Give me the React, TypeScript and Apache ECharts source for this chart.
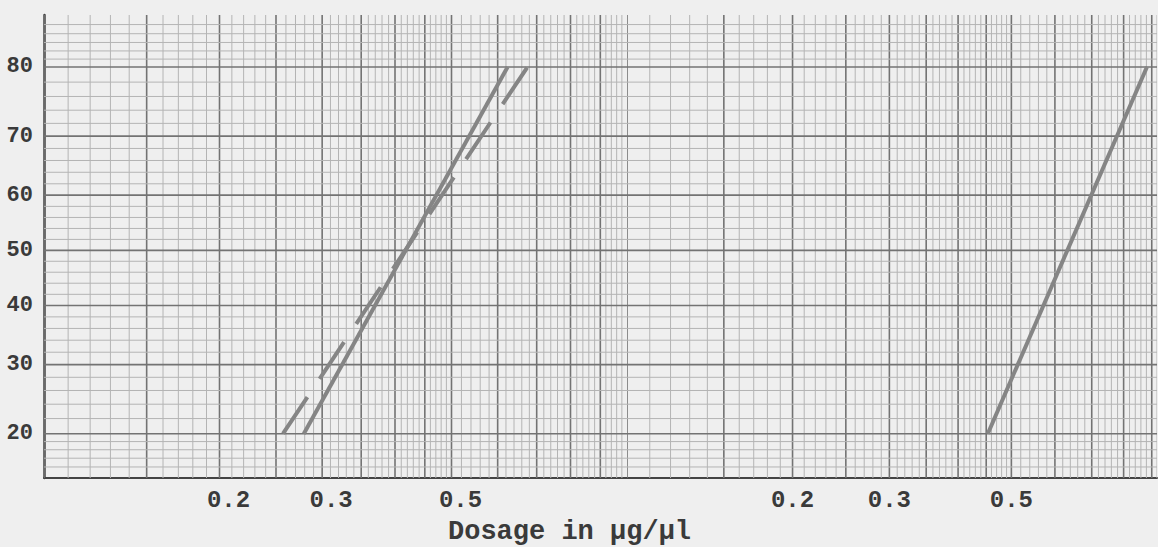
import React, { useEffect, useRef } from "react";
import * as echarts from "echarts";

// ---- tick labels / text ----
const yTickPercents = [20, 30, 40, 50, 60, 70, 80];
const xTickLabels = [0.2, 0.3, 0.5];
const axisTitle = "Dosage in µg/µl";

// ---- series: dose (µg/µl) and response (%) ----
const leftSolidDose = [0.279, 0.624];
const leftSolidPct = [20, 80];
const leftDashedDose = [0.257, 0.675];
const leftDashedPct = [20, 80];
const rightDose = [0.453, 0.882];
const rightPct = [20, 80];

// ---- graph-paper rulings (cycle multipliers x0.1, and percent levels) ----
const majorVertical = [1, 1.5, 2, 2.5, 3, 3.5, 4, 4.5, 5, 6, 7, 8, 9];
const minorVertical = [
  1.1, 1.2, 1.3, 1.4, 1.6, 1.7, 1.8, 1.9, 2.1, 2.2, 2.3, 2.4, 2.6, 2.7, 2.8, 2.9,
  3.1, 3.2, 3.3, 3.4, 3.6, 3.7, 3.8, 3.9, 4.1, 4.2, 4.3, 4.4, 4.6, 4.7, 4.8, 4.9,
  5.2, 5.4, 5.6, 5.8, 6.2, 6.4, 6.6, 6.8, 7.2, 7.4, 7.6, 7.8, 8.2, 8.4, 8.6, 8.8,
  9.2, 9.4, 9.6, 9.8,
];
const majorHorizontal = [20, 30, 40, 50, 60, 70, 80];
const minorHorizontal = [
  16, 17, 18, 19, 22, 24, 26, 28, 32, 34, 36, 38, 42, 44, 46, 48, 52, 54, 56, 58,
  62, 64, 66, 68, 72, 74, 76, 78, 81, 82, 83, 84, 85,
];
const pctRange = [14.8, 86];
const leftDoseRange = [0.1, 1];
const rightDoseRange = [0.1, 0.92];

// inverse standard normal CDF (Acklam)
function probit(p: number): number {
  const a = [-3.969683028665376e1, 2.209460984245205e2, -2.759285104469687e2, 1.38357751867269e2, -3.066479806614716e1, 2.506628277459239];
  const b = [-5.447609879822406e1, 1.615858368580409e2, -1.556989798598866e2, 6.680131188771972e1, -1.328068155288572e1];
  const c = [-7.784894002430293e-3, -3.223964580411365e-1, -2.400758277161838, -2.549732539343734, 4.374664141464968, 2.938163982698783];
  const d = [7.784695709041462e-3, 3.224671290700398e-1, 2.445134137142996, 3.754408661907416];
  const pl = 0.02425;
  if (p < pl) {
    const q = Math.sqrt(-2 * Math.log(p));
    return (((((c[0] * q + c[1]) * q + c[2]) * q + c[3]) * q + c[4]) * q + c[5]) / ((((d[0] * q + d[1]) * q + d[2]) * q + d[3]) * q + 1);
  }
  if (p > 1 - pl) {
    const q = Math.sqrt(-2 * Math.log(1 - p));
    return -(((((c[0] * q + c[1]) * q + c[2]) * q + c[3]) * q + c[4]) * q + c[5]) / ((((d[0] * q + d[1]) * q + d[2]) * q + d[3]) * q + 1);
  }
  const q = p - 0.5;
  const r = q * q;
  return ((((((a[0] * r + a[1]) * r + a[2]) * r + a[3]) * r + a[4]) * r + a[5]) * q) / (((((b[0] * r + b[1]) * r + b[2]) * r + b[3]) * r + b[4]) * r + 1);
}

const pz = (pct: number) => probit(pct / 100);
const lx = (dose: number) => Math.log10(dose);

function nearestLabel(v: number, vals: number[], labels: string[]) {
  let bi = 0;
  let bd = Infinity;
  vals.forEach((t, i) => {
    const dd = Math.abs(t - v);
    if (dd < bd) {
      bd = dd;
      bi = i;
    }
  });
  return labels[bi];
}

const FONT = "Liberation Mono";
const TEXT_COLOR = "#3a3a3a";

function rulingData() {
  const out: number[][] = [];
  majorVertical.forEach((m) => out.push([lx(m * 0.1), 0, 0, 1]));
  minorVertical.forEach((m) => out.push([lx(m * 0.1), 0, 0, 0]));
  majorHorizontal.forEach((p) => out.push([-1, pz(p), 1, 1]));
  minorHorizontal.forEach((p) => out.push([-1, pz(p), 1, 0]));
  return out;
}

function rulingSeries(idx: number) {
  return {
    type: "custom",
    xAxisIndex: idx,
    yAxisIndex: idx,
    silent: true,
    z: 1,
    clip: true,
    data: rulingData(),
    renderItem: (params: any, api: any) => {
      const cs = params.coordSys;
      const kind = api.value(2);
      const major = api.value(3);
      const style = {
        stroke: major ? "#737373" : "#b4b4b4",
        lineWidth: major ? 1.6 : 1,
      };
      if (kind === 0) {
        const x = api.coord([api.value(0), 0])[0];
        if (x < cs.x - 0.5 || x > cs.x + cs.width + 0.5) return null;
        return {
          type: "line",
          shape: { x1: x, y1: cs.y, x2: x, y2: cs.y + cs.height },
          style,
        };
      }
      const y = api.coord([-1, api.value(1)])[1];
      return {
        type: "line",
        shape: { x1: cs.x, y1: y, x2: cs.x + cs.width, y2: y },
        style,
      };
    },
  };
}

export default function App() {
  const ref = useRef<HTMLDivElement>(null);

  useEffect(() => {
    if (!ref.current) return;
    const chart = echarts.init(ref.current, undefined, { renderer: "svg" });

    const yTickZ = yTickPercents.map(pz);
    const xTickLog = xTickLabels.map(lx);
    const zMin = pz(pctRange[0]);
    const zMax = pz(pctRange[1]);

    const xAxisCommon = (idx: number, range: number[], shiftPad: number) => ({
      type: "value",
      gridIndex: idx,
      min: lx(range[0]),
      max: lx(range[1]),
      axisLine: { show: true, onZero: false, lineStyle: { color: "#444", width: 2 } },
      axisTick: { show: false },
      splitLine: { show: false },
      axisLabel: {
        customValues: xTickLog,
        margin: 10,
        padding: [0, 0, 0, shiftPad],
        fontFamily: FONT,
        fontSize: 24,
        fontWeight: "bold",
        color: TEXT_COLOR,
        formatter: (v: number) =>
          nearestLabel(v, xTickLog, xTickLabels.map((t) => t.toFixed(1))),
      },
    });

    const lineSeries = (
      name: string,
      idx: number,
      dose: number[],
      pct: number[],
      dashed: boolean
    ) => ({
      name,
      type: "line",
      xAxisIndex: idx,
      yAxisIndex: idx,
      symbol: "none",
      z: 5,
      data: dose.map((d, i) => [lx(d), pz(pct[i])]),
      lineStyle: {
        color: "#858585",
        width: 4,
        type: dashed ? [44, 22] : "solid",
        cap: "butt",
      },
    });

    chart.setOption({
      animation: false,
      backgroundColor: "#efefef",
      title: {
        text: axisTitle,
        left: 443,
        top: 513,
        textStyle: {
          fontFamily: FONT,
          fontSize: 27,
          fontWeight: "bold",
          color: TEXT_COLOR,
        },
      },
      grid: [
        { left: 44, top: 15, width: 583, height: 463 },
        { left: 627, top: 15, width: 530, height: 463 },
      ],
      xAxis: [
        xAxisCommon(0, leftDoseRange, 18),
        xAxisCommon(1, rightDoseRange, 0),
      ],
      yAxis: [
        {
          type: "value",
          gridIndex: 0,
          min: zMin,
          max: zMax,
          axisLine: { show: true, onZero: false, lineStyle: { color: "#444", width: 2.5 } },
          axisTick: { show: false },
          splitLine: { show: false },
          axisLabel: {
            customValues: yTickZ,
            margin: 11,
            fontFamily: FONT,
            fontSize: 22,
            fontWeight: "bold",
            color: TEXT_COLOR,
            formatter: (v: number) =>
              nearestLabel(v, yTickZ, yTickPercents.map(String)),
          },
        },
        {
          type: "value",
          gridIndex: 1,
          min: zMin,
          max: zMax,
          show: false,
          splitLine: { show: false },
        },
      ],
      series: [
        rulingSeries(0),
        rulingSeries(1),
        lineSeries("Left solid", 0, leftSolidDose, leftSolidPct, false),
        lineSeries("Left dashed", 0, leftDashedDose, leftDashedPct, true),
        lineSeries("Right", 1, rightDose, rightPct, false),
      ],
    });

    return () => chart.dispose();
  }, []);

  return (
    <div
      ref={ref}
      style={{ position: "fixed", left: 0, top: 0, width: 1158, height: 547 }}
    />
  );
}
